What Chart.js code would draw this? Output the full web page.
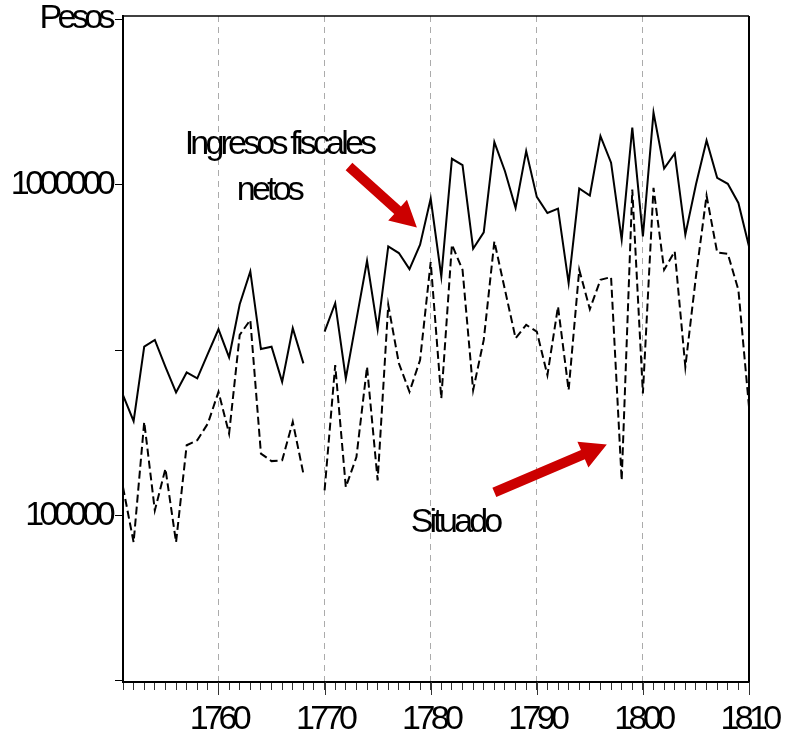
<!DOCTYPE html>
<html>
<head>
<meta charset="utf-8">
<script src="https://cdn.jsdelivr.net/npm/chart.js@4.4.1/dist/chart.umd.min.js"></script>
<style>
  html, body { margin: 0; padding: 0; background: #fff; }
  canvas { display: block; }
</style>
</head>
<body>
<canvas id="chart" width="785" height="732"></canvas>
<script>
const years = [1751, 1752, 1753, 1754, 1755, 1756, 1757, 1758, 1759, 1760,
  1761, 1762, 1763, 1764, 1765, 1766, 1767, 1768, 1769, 1770,
  1771, 1772, 1773, 1774, 1775, 1776, 1777, 1778, 1779, 1780,
  1781, 1782, 1783, 1784, 1785, 1786, 1787, 1788, 1789, 1790,
  1791, 1792, 1793, 1794, 1795, 1796, 1797, 1798, 1799, 1800,
  1801, 1802, 1803, 1804, 1805, 1806, 1807, 1808, 1809, 1810];

// Ingresos fiscales netos (solid)
const ingresos = [231000, 192700, 323600, 339200, 281400, 235400, 270600, 259500, 308200, 365300,
  300600, 435000, 546200, 318400, 323600, 253400, 368000, 288200, null, 359400,
  438000, 259500, 390600, 588500, 365300, 650200, 620900, 555400, 658000, 907000,
  527400, 1196000, 1144000, 640000, 717000, 1344000, 1097000, 850000, 1262000, 917800,
  820700, 845800, 503700, 972500, 926200, 1401000, 1164000, 681300, 1485000, 697200,
  1649000, 1118000, 1241000, 705600, 1000000, 1359000, 1048000, 1005000, 880000, 650200];

// Situado (dashed)
const situado = [121800, 83000, 191800, 103600, 138500, 83000, 163000, 168800, 189700, 236400,
  176800, 351200, 389900, 153800, 146000, 146800, 191800, 133800, null, 119100,
  284800, 121800, 150200, 281400, 127700, 432900, 288200, 236400, 294900, 583200,
  225800, 658000, 552700, 239200, 339200, 673300, 480700, 343200, 376600, 359400,
  265600, 427800, 239200, 552700, 420100, 515400, 525200, 127700, 965700, 233800,
  977200, 552700, 628100, 281400, 527600, 926200, 623600, 618000, 480700, 212900];

const xLabelYears = [1760, 1770, 1780, 1790, 1800, 1810];
const gridYears = [1760, 1770, 1780, 1790, 1800];
const yTickValues = [31623, 100000, 316228, 1000000, 3162278];
const yTickLabels = ['', '100000', '', '1000000', 'Pesos'];

// annotation texts and arrows, anchored in data space
const notes = [
  { text: 'Ingresos fiscales', year: 1765.7, value: 1233000 },
  { text: 'netos', year: 1764.75, value: 900500 },
  { text: 'Situado', year: 1782.3, value: 89430 }
];
const arrows = [
  { from: [1772.3, 1134000], to: [1778.7, 741000] },
  { from: [1786.0, 117400], to: [1796.6, 164000] }
];

const font = { family: '"Liberation Sans", Arial, sans-serif', size: 34 };

const toPoints = (vals) => vals.map((v, i) => ({ x: years[i], y: v }));

function drawArrow(ctx, x1, y1, x2, y2) {
  const ang = Math.atan2(y2 - y1, x2 - x1);
  const len = Math.hypot(x2 - x1, y2 - y1);
  const shaft = 5, head = 26, half = 14;
  ctx.save();
  ctx.translate(x1, y1);
  ctx.rotate(ang);
  ctx.beginPath();
  ctx.moveTo(0, -shaft);
  ctx.lineTo(len - head, -shaft);
  ctx.lineTo(len - head, -half);
  ctx.lineTo(len, 0);
  ctx.lineTo(len - head, half);
  ctx.lineTo(len - head, shaft);
  ctx.lineTo(0, shaft);
  ctx.closePath();
  ctx.fillStyle = '#cc0000';
  ctx.fill();
  ctx.restore();
}

const framePlugin = {
  id: 'frame',
  beforeUpdate(chart) { chart.ctx.letterSpacing = '-4.6px'; },
  beforeDraw(chart) { chart.ctx.letterSpacing = '-4.6px'; },
  afterDatasetsDraw(chart) {
    const { ctx, scales: { x, y } } = chart;
    ctx.save();
    arrows.forEach(a => {
      drawArrow(ctx, x.getPixelForValue(a.from[0]), y.getPixelForValue(a.from[1]),
        x.getPixelForValue(a.to[0]), y.getPixelForValue(a.to[1]));
    });
    ctx.letterSpacing = '-3.8px';
    ctx.font = font.size + 'px ' + font.family;
    ctx.fillStyle = '#000';
    ctx.textAlign = 'center';
    ctx.textBaseline = 'alphabetic';
    notes.forEach(n => {
      ctx.fillText(n.text, x.getPixelForValue(n.year), y.getPixelForValue(n.value));
    });
    ctx.restore();
  },
  afterDraw(chart) {
    const { ctx, chartArea: a, scales: { x } } = chart;
    ctx.save();
    ctx.strokeStyle = '#000';
    ctx.lineWidth = 1.5;
    ctx.beginPath();
    ctx.moveTo(a.left, a.top);
    ctx.lineTo(a.right, a.top);
    ctx.stroke();
    ctx.lineWidth = 2;
    ctx.beginPath();
    ctx.moveTo(a.right, a.top);
    ctx.lineTo(a.right, a.bottom);
    ctx.stroke();
    // decade ticks are longer than the yearly ones
    ctx.lineWidth = 1;
    ctx.strokeStyle = '#333';
    xLabelYears.forEach(yr => {
      const px = Math.round(x.getPixelForValue(yr)) + 0.5;
      ctx.beginPath();
      ctx.moveTo(px, a.bottom);
      ctx.lineTo(px, a.bottom + 13);
      ctx.stroke();
    });
    ctx.restore();
  }
};

new Chart(document.getElementById('chart'), {
  type: 'line',
  data: {
    datasets: [
      {
        label: 'Ingresos fiscales netos',
        data: toPoints(ingresos),
        borderColor: '#000',
        borderWidth: 2,
        pointRadius: 0,
        tension: 0,
        spanGaps: false
      },
      {
        label: 'Situado',
        data: toPoints(situado),
        borderColor: '#000',
        borderWidth: 2,
        borderDash: [8, 4],
        pointRadius: 0,
        tension: 0,
        spanGaps: false
      }
    ]
  },
  options: {
    responsive: false,
    animation: false,
    devicePixelRatio: 1,
    layout: { padding: { top: 16, right: 36, bottom: 0, left: 0 } },
    plugins: { legend: { display: false }, tooltip: { enabled: false } },
    scales: {
      x: {
        type: 'linear',
        min: 1751,
        max: 1810,
        afterBuildTicks: (scale) => { scale.ticks = years.map(v => ({ value: v })); },
        afterFit: (scale) => { scale.height = 50; scale.paddingLeft = 0; scale.paddingRight = 0; },
        ticks: {
          autoSkip: false,
          maxRotation: 0,
          color: '#000',
          font: font,
          padding: 9,
          callback: (v) => xLabelYears.includes(v) ? String(v) : ''
        },
        grid: {
          color: (c) => (c.tick && gridYears.includes(c.tick.value)) ? '#ababab' : 'rgba(0,0,0,0)',
          lineWidth: 1,
          tickLength: 8,
          tickColor: '#333',
          tickWidth: 1
        },
        border: { color: '#000', width: 2, dash: [6, 5] }
      },
      y: {
        type: 'logarithmic',
        min: 31400,
        max: 3230000,
        afterBuildTicks: (scale) => { scale.ticks = yTickValues.map(v => ({ value: v })); },
        afterFit: (scale) => { scale.width = 123; scale.paddingTop = 0; scale.paddingBottom = 0; },
        ticks: {
          autoSkip: false,
          color: '#000',
          font: font,
          padding: 4,
          callback: (v) => {
            const k = yTickValues.indexOf(v);
            return k >= 0 ? yTickLabels[k] : '';
          }
        },
        grid: { drawOnChartArea: false, tickLength: 8, tickColor: '#000', tickWidth: 1 },
        border: { color: '#000', width: 2 }
      }
    }
  },
  plugins: [framePlugin]
});
</script>
</body>
</html>
